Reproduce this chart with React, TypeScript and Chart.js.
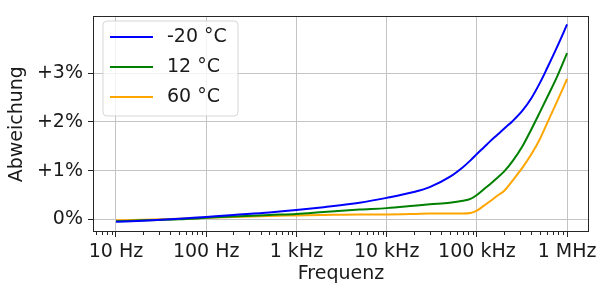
import React, { useEffect, useRef } from 'react';
import { Chart, registerables } from 'chart.js';
Chart.register(...registerables);

const frequencies = [10, 20, 50, 100, 200, 500, 1e3, 2e3, 5e3, 1e4, 2e4, 3e4, 5e4, 7e4, 8.5e4, 1e5, 1.2e5, 1.4e5, 1.7e5, 2e5, 2.5e5, 3.2e5, 4e5, 5e5, 6e5, 7.8e5, 1e6];
const seriesLabels = ['-20 °C', '12 °C', '60 °C'];
const seriesColors = ['#0000ff', '#008000', '#ffa500'];
const devMinus20 = [-0.05, -0.03, 0.01, 0.05, 0.09, 0.14, 0.19, 0.25, 0.34, 0.44, 0.56, 0.66, 0.87, 1.07, 1.21, 1.34, 1.48, 1.6, 1.74, 1.86, 2.02, 2.23, 2.48, 2.8, 3.1, 3.55, 4.0];
const dev12 = [-0.04, -0.02, 0.0, 0.03, 0.06, 0.09, 0.11, 0.15, 0.2, 0.23, 0.28, 0.31, 0.34, 0.38, 0.42, 0.5, 0.62, 0.72, 0.86, 0.98, 1.2, 1.5, 1.84, 2.2, 2.5, 2.94, 3.41];
const dev60 = [-0.02, -0.01, 0.01, 0.03, 0.05, 0.07, 0.08, 0.09, 0.1, 0.1, 0.11, 0.12, 0.12, 0.12, 0.13, 0.18, 0.28, 0.37, 0.49, 0.58, 0.8, 1.06, 1.33, 1.65, 1.97, 2.43, 2.88];
const xTickValues = [10, 100, 1e3, 1e4, 1e5, 1e6];
const xTickLabels = ['10 Hz', '100 Hz', '1 kHz', '10 kHz', '100 kHz', '1 MHz'];
const yTickValues = [0, 1, 2, 3];
const yTickLabels = ['0%', '+1%', '+2%', '+3%'];
const xMin = 5.56;
const xMax = 1.75e6;
const yMin = -0.26;
const yMax = 4.165;

const FONT = 'DejaVu Sans';
const TEXT = '#1a1a1a';

const minorTicks: number[] = [];
for (let e = 0; e <= 6; e++) {
  for (let k = 2; k <= 9; k++) {
    const v = k * Math.pow(10, e);
    if (v > xMin && v < xMax) minorTicks.push(v);
  }
}

const framePlugin = {
  id: 'frame',
  afterDatasetsDraw(chart: any) {
    const { ctx, chartArea: a } = chart;
    const xs = chart.scales.x;
    ctx.save();
    ctx.strokeStyle = '#262626';
    ctx.lineWidth = 1;
    ctx.strokeRect(Math.round(a.left) + 0.5, Math.round(a.top) + 0.5, Math.round(a.right - a.left) - 1, Math.round(a.bottom - a.top) - 1);
    ctx.beginPath();
    for (const v of minorTicks) {
      const px = Math.round(xs.getPixelForValue(v)) + 0.5;
      ctx.moveTo(px, a.bottom);
      ctx.lineTo(px, a.bottom + 3);
    }
    ctx.stroke();
    ctx.restore();
  },
  afterDraw(chart: any) {
    const { ctx } = chart;
    const left = 103, top = 21, w = 135, h = 95, r = 4;
    ctx.save();
    ctx.beginPath();
    ctx.moveTo(left + r, top);
    ctx.arcTo(left + w, top, left + w, top + h, r);
    ctx.arcTo(left + w, top + h, left, top + h, r);
    ctx.arcTo(left, top + h, left, top, r);
    ctx.arcTo(left, top, left + w, top, r);
    ctx.closePath();
    ctx.fillStyle = 'rgba(255,255,255,0.8)';
    ctx.fill();
    ctx.strokeStyle = 'rgba(204,204,204,0.8)';
    ctx.lineWidth = 1;
    ctx.stroke();
    chart.data.datasets.forEach((ds: any, i: number) => {
      const y = 37 + i * 30;
      ctx.beginPath();
      ctx.strokeStyle = ds.borderColor;
      ctx.lineWidth = 2;
      ctx.moveTo(110, y);
      ctx.lineTo(153, y);
      ctx.stroke();
      ctx.fillStyle = TEXT;
      ctx.font = `19px "${FONT}"`;
      ctx.textBaseline = 'middle';
      ctx.textAlign = 'left';
      ctx.fillText(ds.label, 167, y);
    });
    ctx.restore();
  },
};

export default function App() {
  const ref = useRef<HTMLCanvasElement>(null);
  useEffect(() => {
    if (!ref.current) return;
    const series = [devMinus20, dev12, dev60];
    const chart = new Chart(ref.current, {
      type: 'line',
      data: {
        datasets: series.map((vals, i) => ({
          label: seriesLabels[i],
          data: frequencies.map((f, j) => ({ x: f, y: vals[j] })),
          borderColor: seriesColors[i],
          backgroundColor: seriesColors[i],
          borderWidth: 2,
          pointRadius: 0,
          fill: false,
          cubicInterpolationMode: 'monotone' as const,
        })),
      },
      options: {
        animation: false,
        responsive: false,
        devicePixelRatio: 1,
        layout: { padding: { left: 0, right: 12, top: 12, bottom: 0 } },
        plugins: { legend: { display: false }, tooltip: { enabled: false } },
        scales: {
          x: {
            type: 'logarithmic',
            min: xMin,
            max: xMax,
            afterBuildTicks: (axis: any) => {
              axis.ticks = xTickValues.map((v) => ({ value: v, major: true }));
            },
            afterFit: (axis: any) => {
              axis.height = 54;
            },
            border: { display: false },
            grid: { color: '#c4c4c4', lineWidth: 1, tickColor: '#262626', tickLength: 5, tickWidth: 1 },
            ticks: {
              autoSkip: false,
              maxRotation: 0,
              padding: 4,
              color: TEXT,
              font: { family: FONT, size: 19 },
              callback: (value: any) => {
                const idx = xTickValues.indexOf(Number(value));
                return idx >= 0 ? xTickLabels[idx] : '';
              },
            },
            title: {
              display: true,
              text: 'Frequenz',
              color: TEXT,
              font: { family: FONT, size: 19 },
              padding: { top: 0, bottom: 1 },
            },
          },
          y: {
            type: 'linear',
            min: yMin,
            max: yMax,
            afterBuildTicks: (axis: any) => {
              axis.ticks = yTickValues.map((v) => ({ value: v }));
            },
            afterFit: (axis: any) => {
              axis.width = 93;
            },
            border: { display: false },
            grid: { color: '#c4c4c4', lineWidth: 1, tickColor: '#262626', tickLength: 5, tickWidth: 1 },
            ticks: {
              padding: 5,
              color: TEXT,
              font: { family: FONT, size: 19 },
              callback: (value: any) => {
                const idx = yTickValues.indexOf(Number(value));
                return idx >= 0 ? yTickLabels[idx] : '';
              },
            },
            title: {
              display: true,
              text: 'Abweichung',
              color: TEXT,
              font: { family: FONT, size: 19 },
              padding: { top: 6, bottom: 0 },
            },
          },
        },
      },
      plugins: [framePlugin],
    });
    return () => chart.destroy();
  }, []);
  return (
    <div style={{ position: 'absolute', left: 0, top: 0, width: 601, height: 286, background: '#fff' }}>
      <canvas ref={ref} width={601} height={286} />
    </div>
  );
}
